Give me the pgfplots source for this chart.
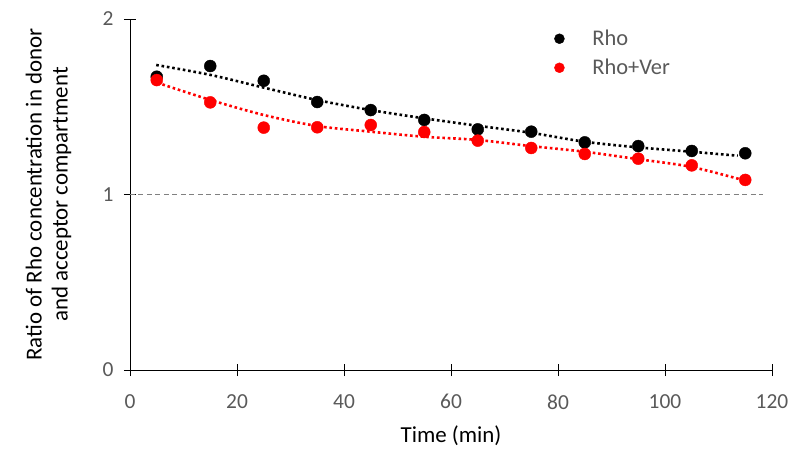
\documentclass[border=0pt]{standalone}
\usepackage{fontspec}
\setmainfont{Carlito}
\usepackage{pgfplots}
\pgfplotsset{compat=1.18}
\definecolor{tickgray}{HTML}{595959}
\definecolor{rhored}{HTML}{FF0000}

\begin{document}
\begin{tikzpicture}
\useasboundingbox (-130bp,-79bp) rectangle (661bp,370bp);
\begin{axis}[
    at={(0,0)}, anchor=south west,
    scale only axis,
    width=642bp, height=351bp,
    xmin=0, xmax=120, ymin=0, ymax=2,
    xtick={0,20,...,120}, ytick={0,1,2},
    axis x line=bottom, axis y line=left,
    axis line style={black, line width=0.8bp, -},
    tick align=center, major tick length=12bp,
    tick style={black, line width=0.8bp},
    /pgf/number format/assume math mode=true,
    tick label style={font=\fontsize{21.5}{25}\selectfont, text=tickgray},
    yticklabel style={xshift=-7bp},
    xticklabel style={yshift=-15bp},
    label style={font=\fontsize{23}{26}\selectfont},
    xlabel={Time (min)},
    ylabel={Ratio of Rho concentration in donor\\and acceptor compartment},
    ylabel style={align=center, at={(axis description cs:-0.127,0.5)}, anchor=center},
    xlabel style={at={(axis description cs:0.5,-0.188)}, anchor=center},
    clip=false,
    legend style={draw=none, fill=none, font=\fontsize{22.5}{26}\selectfont, text=tickgray,
        at={(axis cs:78.7,1.96)}, anchor=north west, row sep=8bp},
    legend cell align=left,
    legend image code/.code={\fill[#1] (0,0) circle (5bp); \path[draw=none,fill=none] (-5bp,0) -- (31bp,0);},
]
% reference line at 1
\addplot[forget plot, gray, line width=1bp, dash pattern=on 5bp off 3.5bp] coordinates {(0,1) (118.3,1)};
% trend lines
\addplot[forget plot, black, line width=2.6bp, dash pattern=on 2.6bp off 2.8bp, smooth] coordinates {
(4.9,1.738) (15.1,1.681) (25.0,1.609) (35.0,1.538) (45.0,1.481) (55.0,1.434)
(64.9,1.392) (74.9,1.352) (84.9,1.301) (94.8,1.269) (104.8,1.244) (113.6,1.221)};
\addplot[forget plot, rhored, line width=2.6bp, dash pattern=on 2.6bp off 2.8bp, smooth] coordinates {
(5.1,1.637) (15.1,1.538) (25.0,1.453) (35.0,1.390) (45.0,1.358) (55.0,1.329)
(64.9,1.311) (74.9,1.276) (84.9,1.244) (94.8,1.202) (104.8,1.158) (114.0,1.087)};
% data
\addplot[only marks, mark=*, mark size=6bp, black, mark options={fill=black}] coordinates {
(5,1.671) (15,1.732) (25,1.648) (35,1.527) (45,1.481) (55,1.425)
(65,1.371) (75,1.358) (85,1.297) (95,1.276) (105,1.248) (115,1.235)};
\addlegendentry{Rho}
\addplot[only marks, mark=*, mark size=6bp, rhored, mark options={fill=rhored}] coordinates {
(5,1.652) (15,1.525) (25,1.381) (35,1.383) (45,1.396) (55,1.356)
(65,1.307) (75,1.265) (85,1.231) (95,1.204) (105,1.166) (115,1.083)};
\addlegendentry{Rho+Ver}
\end{axis}
\end{tikzpicture}
\end{document}
